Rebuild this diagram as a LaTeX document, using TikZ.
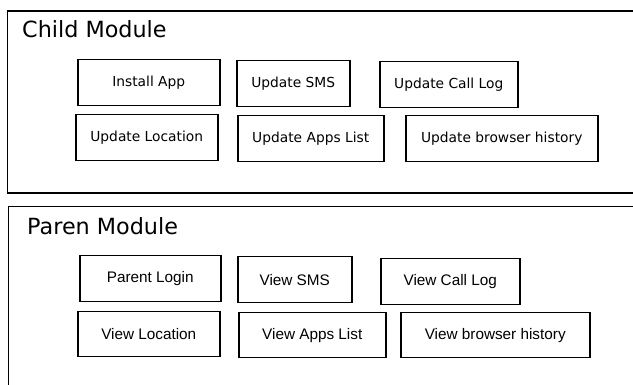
\documentclass[tikz,border=0pt]{standalone}
\usepackage{fontspec}
\setmainfont{DejaVu Sans}
\newfontfamily\arialfont{Liberation Sans}
\begin{document}
\begin{tikzpicture}[x=1pt,y=-1pt,
  modbox/.style={draw,line width=1.4pt,anchor=north west,inner sep=0pt},
  titletxt/.style={anchor=base west,inner sep=0pt,font=\fontsize{22.3}{26}\selectfont},
  childbox/.style={draw,line width=1.5pt,anchor=north west,inner sep=0pt,font=\fontsize{13.8}{16}\selectfont},
  parbox/.style={draw,line width=1.5pt,anchor=north west,inner sep=0pt,font=\arialfont\fontsize{15.3}{18}\selectfont}]
\useasboundingbox (0,0) rectangle (633,385);
\clip (0,0) rectangle (633,385);
\fill[white] (0,0) rectangle (633,385);
% outer modules
\node[modbox,minimum width=640pt,minimum height=182pt] (child) at (7,10.5) {};
\node[modbox,minimum width=640pt,minimum height=200pt] (parent) at (8,206) {};
\node[titletxt] (childtitle) at (22,38) {Child Module};
\node[titletxt] (parenttitle) at (27,235) {Paren Module};
% child items
\node[childbox,minimum width=142pt,minimum height=46pt] (install) at (77,59) {Install App};
\node[childbox,minimum width=113pt,minimum height=46pt] (usms) at (236,60) {Update SMS};
\node[childbox,minimum width=138pt,minimum height=46pt] (ucall) at (379,61) {Update Call Log};
\node[childbox,minimum width=142pt,minimum height=46pt] (uloc) at (75,114) {Update Location};
\node[childbox,minimum width=146pt,minimum height=46pt] (uapps) at (237,115) {Update Apps List};
\node[childbox,minimum width=192pt,minimum height=46pt] (ubrowser) at (405,115) {Update browser history};
% parent items
\node[parbox,minimum width=141pt,minimum height=46pt] (login) at (79,255) {Parent Login};
\node[parbox,minimum width=114pt,minimum height=46pt] (vsms) at (237,256) {View SMS};
\node[parbox,minimum width=139pt,minimum height=46pt] (vcall) at (380,258) {View Call Log};
\node[parbox,minimum width=142pt,minimum height=45pt] (vloc) at (77,311) {View Location};
\node[parbox,minimum width=147pt,minimum height=45pt] (vapps) at (238,312) {View Apps List};
\node[parbox,minimum width=189pt,minimum height=45pt] (vbrowser) at (400,312) {View browser history};
\end{tikzpicture}
\end{document}
